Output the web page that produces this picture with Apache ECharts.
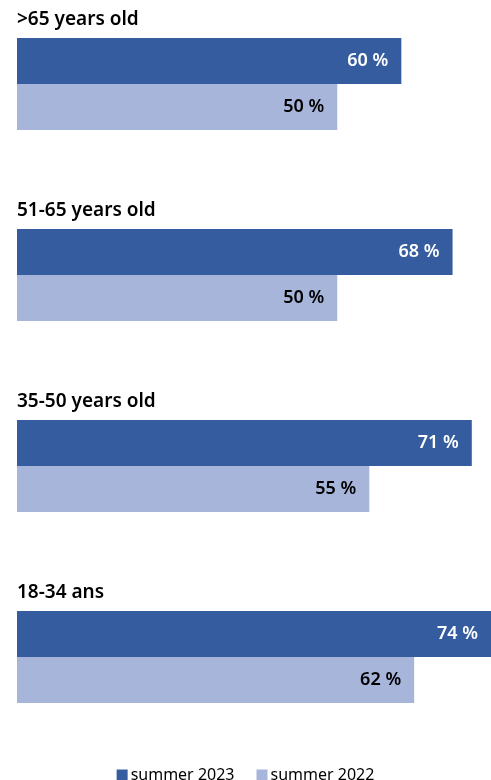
<!DOCTYPE html>
<html><head><meta charset="utf-8">
<script src="https://cdn.jsdelivr.net/npm/echarts@6/dist/echarts.min.js"></script>
<style>html,body{margin:0;padding:0;background:#fff}#c{width:491px;height:780px}</style>
</head><body><div id="c"></div>
<script>
const categories = [">65 years old", "51-65 years old", "35-50 years old", "18-34 ans"];
const summer2023 = [60, 68, 71, 74];
const summer2022 = [50, 50, 55, 62];
const seriesNames = ["summer 2023", "summer 2022"];

const FONT = '"Noto Sans", sans-serif';
const chart = echarts.init(document.getElementById('c'), null, {renderer: 'canvas'});
const lbl = (color) => ({
  show: true, position: 'insideRight', distance: 13,
  formatter: p => p.value + ' %', color: color,
  fontFamily: FONT, fontSize: 18, fontWeight: 600
});
chart.setOption({
  animation: false,
  grid: {left: 17, right: 0, top: 84, bottom: 123, containLabel: false},
  legend: {
    top: 762, left: 'center', itemWidth: 11, itemHeight: 11, itemGap: 22,
    icon: 'rect',
    textStyle: {fontFamily: FONT, fontSize: 16, color: '#000', padding: [0,0,0,-2]},
    data: seriesNames
  },
  xAxis: {type: 'value', min: 0, max: 74, show: false},
  yAxis: {
    type: 'category', data: categories, inverse: true, boundaryGap: false,
    axisLine: {show: false}, axisTick: {show: false}, splitLine: {show: false},
    axisLabel: {
      show: true, interval: 0, margin: 0, align: 'left', verticalAlign: 'bottom',
      padding: [0, 0, 55, 0], showMinLabel: true, showMaxLabel: true,
      fontFamily: FONT, fontSize: 19, fontWeight: 600, color: '#000'
    }
  },
  series: [
    {name: seriesNames[0], type: 'bar', data: summer2023, barWidth: 46, barGap: '0%',
     clip: false, itemStyle: {color: '#355C9F'}, label: lbl('#fff')},
    {name: seriesNames[1], type: 'bar', data: summer2022, barWidth: 46, barGap: '0%',
     clip: false, itemStyle: {color: '#A7B5DA'}, label: lbl('#000')}
  ]
});
</script></body></html>
